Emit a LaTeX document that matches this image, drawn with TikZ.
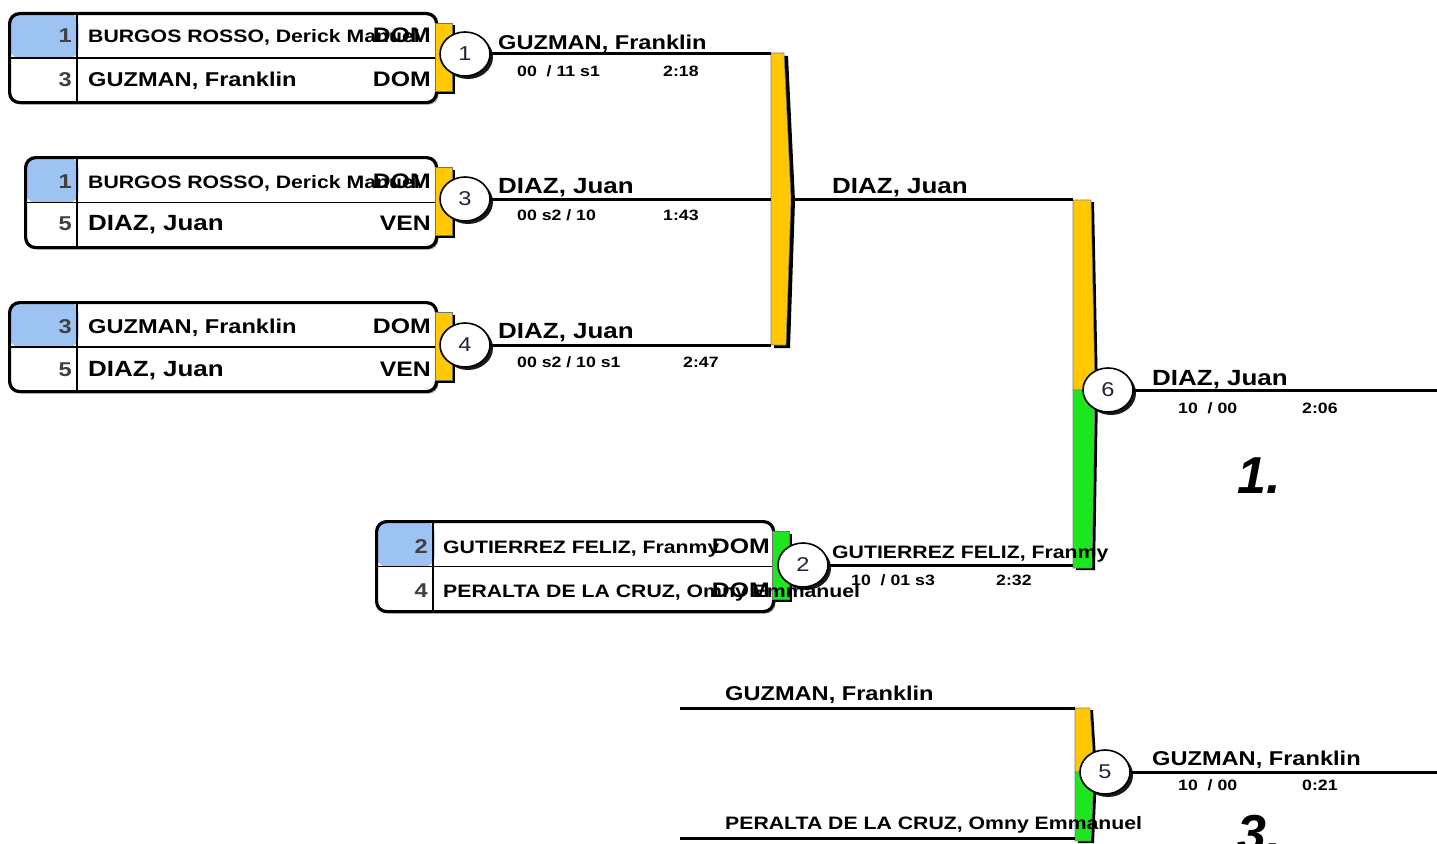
\documentclass[tikz,border=0pt]{standalone}
\usepackage{fontspec}
\setmainfont{Liberation Sans}[FakeStretch=1.18]
\newfontfamily\rankfont{Liberation Sans}
\usetikzlibrary{positioning,shapes.geometric,shadows}

\definecolor{seedblue}{HTML}{9DC3F2}
\definecolor{baryel}{HTML}{FFC800}
\definecolor{bargrn}{HTML}{1EE61E}
\definecolor{numink}{HTML}{22223A}

\begin{document}
\begin{tikzpicture}[x=1pt,y=-1pt,
  entry/.style={draw,line width=3.2pt,rounded corners=10pt,fill=white,inner sep=0pt,
    drop shadow={shadow xshift=2pt,shadow yshift=-2pt,fill=black,opacity=0.35}},
  divider/.style={line width=1.4pt},
  wire/.style={line width=3pt},
  tab/.style={draw=black!55,line width=0.6pt,inner sep=0pt,minimum width=17pt,minimum height=68pt,
    drop shadow={shadow xshift=2.5pt,shadow yshift=-2.5pt,fill=black,opacity=1}},
  bout/.style={ellipse,draw,line width=1.6pt,fill=white,inner sep=0pt,minimum width=50pt,minimum height=44pt,
    text=numink,font=\fontsize{20}{20}\selectfont,
    drop shadow={shadow xshift=3pt,shadow yshift=-3pt,fill=black,opacity=0.9}},
  seed/.style={anchor=base east,inner sep=0pt,text=black!75,font=\bfseries\fontsize{20}{20}\selectfont},
  nat/.style={anchor=base east,inner sep=0pt,font=\bfseries\fontsize{21}{21}\selectfont},
  lab/.style={anchor=base west,inner sep=0pt},
  huge/.style={lab,font=\bfseries\fontsize{22}{22}\selectfont},
  big/.style={lab,font=\bfseries\fontsize{20}{20}\selectfont},
  mid/.style={lab,font=\bfseries\fontsize{18}{18}\selectfont},
  score/.style={lab,font=\bfseries\fontsize{15}{15}\selectfont},
  rank/.style={lab,font=\rankfont\bfseries\itshape\fontsize{52}{52}\selectfont}]
\useasboundingbox (0,0) rectangle (1437,843);
\clip (0,0) rectangle (1437,843);

% entry boxes
\foreach \n/\x/\y/\w/\h/\s in {e1/8/12/427/89/69, e2/24/156/411/90/53, e3/8/301/427/89/69, e4/375/520/397/90/58}{
  \node[entry,minimum width=\w pt,minimum height=\h pt,anchor=north west,
    path picture={\fill[seedblue] (path picture bounding box.north west) rectangle ([xshift=\s pt]path picture bounding box.west);}]
    (\n) at (\x,\y) {};
  \draw[divider] (\n.west) -- (\n.east);
  \draw[divider] ([xshift=\s pt]\n.north west) -- ([xshift=\s pt]\n.south west);
}

% tabs and bout numbers
\node[tab,fill=baryel] (t1) at (444,57) {};
\node[tab,fill=baryel] (t3) at (444,201) {};
\node[tab,fill=baryel] (t4) at (444,346) {};
\node[tab,fill=bargrn] (t2) at (781,565) {};
\node[bout] (m1) at (465,54) {1};
\node[bout] (m3) at (465,199) {3};
\node[bout] (m4) at (465,345) {4};
\node[bout] (m2) at (803,565) {2};

\node[seed] (e1s1) at (72,43) {1};
\node[mid] (e1n1) at (88,43) {BURGOS ROSSO, Derick Manuel};
\node[nat] (e1c1) at (431,43) {DOM};
\node[seed] (e1s2) at (72,86) {3};
\node[big] (e1n2) at (88,86) {GUZMAN, Franklin};
\node[nat] (e1c2) at (431,86) {DOM};
\node[seed] (e2s1) at (72,188) {1};
\node[mid] (e2n1) at (88,188) {BURGOS ROSSO, Derick Manuel};
\node[nat] (e2c1) at (431,188) {DOM};
\node[seed] (e2s2) at (72,230) {5};
\node[huge] (e2n2) at (88,230) {DIAZ, Juan};
\node[nat] (e2c2) at (431,230) {VEN};
\node[seed] (e3s1) at (72,333) {3};
\node[big] (e3n1) at (88,333) {GUZMAN, Franklin};
\node[nat] (e3c1) at (431,333) {DOM};
\node[seed] (e3s2) at (72,376) {5};
\node[huge] (e3n2) at (88,376) {DIAZ, Juan};
\node[nat] (e3c2) at (431,376) {VEN};
\node[seed] (e4s1) at (428,553) {2};
\node[mid] (e4n1) at (443,553) {GUTIERREZ FELIZ, Franmy};
\node[nat] (e4c1) at (770,553) {DOM};
\node[seed] (e4s2) at (428,597) {4};
\node[mid] (e4n2) at (443,597) {PERALTA DE LA CRUZ, Omny Emmanuel};
\node[nat] (e4c2) at (770,597) {DOM};

% brackets
\coordinate (b1a) at (771,54);
\coordinate (b1b) at (771,199);
\coordinate (b1c) at (771,345);
\coordinate (b1o) at (791,199);
\fill (774,56) -- (788,56) -- (795,201) -- (790,348) -- (774,348) -- cycle;
\filldraw[fill=baryel,draw=black!50,line width=0.6pt] (771,53) -- (784,53) -- (791,199) -- (786,345) -- (771,345) -- cycle;
\coordinate (b2a) at (1073,199);
\coordinate (b2c) at (1073,565);
\fill (1076,202) -- (1094,202) -- (1098,392) -- (1095,570) -- (1076,570) -- cycle;
\filldraw[fill=baryel,draw=black!50,line width=0.6pt] (1073,200) -- (1091,200) -- (1095,390) -- (1073,390) -- cycle;
\filldraw[fill=bargrn,draw=black!50,line width=0.6pt] (1073,390) -- (1095,390) -- (1092,568) -- (1073,568) -- cycle;
\coordinate (b3a) at (1075,708);
\coordinate (b3c) at (1075,838);
\coordinate (f3a) at (680,708);
\coordinate (f3c) at (680,838);
\fill (1078,710) -- (1093,710) -- (1097,774) -- (1094,843) -- (1078,843) -- cycle;
\filldraw[fill=baryel,draw=black!50,line width=0.6pt] (1075,708) -- (1090,708) -- (1094,772) -- (1075,772) -- cycle;
\filldraw[fill=bargrn,draw=black!50,line width=0.6pt] (1075,772) -- (1094,772) -- (1091,841) -- (1075,841) -- cycle;
\node[bout] (m6) at (1108,390) {6};
\node[bout] (m5) at (1105,772) {5};
\coordinate (w6) at (1437,390);
\coordinate (w5) at (1437,772);

% wires
\draw[wire] (m1.east) -- (b1a);
\draw[wire] (m3.east) -- (b1b);
\draw[wire] (m4.east) -- (b1c);
\draw[wire] (b1o) -- (b2a);
\draw[wire] (m2.east) -- (b2c);
\draw[wire] (m6.east) -- (w6);
\draw[wire] (f3a) -- (b3a);
\draw[wire] (f3c) -- (b3c);
\draw[wire] (m5.east) -- (w5);

% results
\node[big] (r1) at (498,50) {GUZMAN, Franklin};
\node[score] (s1) at (517,77) {00\ \ / 11 s1};
\node[score] (d1) at (663,77) {2:18};
\node[huge] (r3) at (498,193) {DIAZ, Juan};
\node[score] (s3) at (517,220) {00 s2 / 10};
\node[score] (d3) at (663,220) {1:43};
\node[huge] (r4) at (498,338) {DIAZ, Juan};
\node[score] (s4) at (517,367) {00 s2 / 10 s1};
\node[score] (d4) at (683,367) {2:47};
\node[huge] (rb1) at (832,193) {DIAZ, Juan};
\node[huge] (r6) at (1152,385) {DIAZ, Juan};
\node[score] (s6) at (1178,413) {10\ \ / 00};
\node[score] (d6) at (1302,413) {2:06};
\node[rank] (p1) at (1237,493) {1.};
\node[mid] (r2) at (832,558) {GUTIERREZ FELIZ, Franmy};
\node[score] (s2) at (851,585) {10\ \ / 01 s3};
\node[score] (d2) at (996,585) {2:32};
\node[big] (q1) at (725,700) {GUZMAN, Franklin};
\node[mid] (q2) at (725,829) {PERALTA DE LA CRUZ, Omny Emmanuel};
\node[big] (r5) at (1152,765) {GUZMAN, Franklin};
\node[score] (s5) at (1178,790) {10\ \ / 00};
\node[score] (d5) at (1302,790) {0:21};
\node[rank] (p3) at (1237,851) {3.};
\end{tikzpicture}
\end{document}
